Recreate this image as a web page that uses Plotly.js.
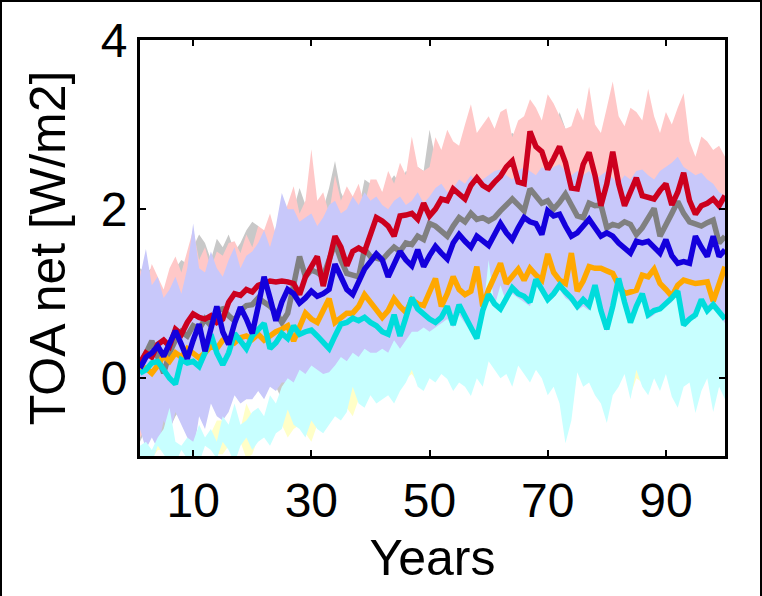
<!DOCTYPE html>
<html>
<head>
<meta charset="utf-8">
<script src="https://cdn.plot.ly/plotly-3.0.1.min.js"></script>
<style>
html,body{margin:0;padding:0;background:#fff;}
#wrap{position:relative;width:762px;height:596px;}
#chart{width:762px;height:596px;}
#frame{position:absolute;left:0;top:0;width:762px;height:596px;box-sizing:border-box;border-left:2px solid #000;border-top:2px solid #000;border-right:2px solid #000;pointer-events:none;}
</style>
</head>
<body>
<div id="wrap"><div id="chart"></div><div id="frame"></div></div>
<script>
// Years 1..100
const years = Array.from({length: 100}, (_, i) => i + 1);

const xTickVals = [10, 30, 50, 70, 90];
const yTickVals = [0, 2, 4];
const xTitle = 'Years';
const yTitle = 'TOA net [W/m2]';

// Ensemble means
const redMean = [0.18,0.30,0.25,0.40,0.45,0.38,0.58,0.52,0.66,0.76,
0.72,0.70,0.74,0.66,0.70,0.90,1.00,0.98,1.05,1.02,
1.10,1.12,1.15,1.14,1.15,1.14,1.12,0.99,1.20,1.32,
1.44,1.09,1.40,1.68,1.55,1.33,1.50,1.54,1.50,1.70,
1.90,1.86,1.80,1.68,1.92,1.93,1.95,1.88,2.07,1.92,
2.00,2.12,2.10,2.24,2.18,2.12,2.28,2.37,2.28,2.24,
2.32,2.39,2.50,2.57,2.32,2.30,2.92,2.74,2.68,2.47,
2.60,2.74,2.55,2.25,2.24,2.53,2.67,2.40,2.04,2.30,
2.68,2.30,2.04,2.20,2.37,2.16,2.14,2.12,2.22,2.30,
2.05,2.20,2.43,2.10,1.94,2.04,2.07,2.12,2.04,2.16];

const grayMean = [0.15,0.30,0.44,0.25,0.06,0.30,0.45,0.55,0.50,0.62,
0.58,0.70,0.62,0.80,0.82,0.74,0.68,0.80,0.86,0.87,
0.95,0.90,0.85,0.78,0.66,0.77,1.10,1.44,1.20,1.28,
1.25,1.20,1.40,1.60,1.40,1.24,1.22,1.20,1.53,1.44,
1.42,1.40,1.48,1.55,1.50,1.60,1.58,1.68,1.64,1.83,
1.80,1.75,1.68,1.80,1.90,1.85,1.95,1.88,1.90,1.86,
1.90,1.98,2.05,2.12,2.05,1.98,2.24,2.15,2.07,2.10,
2.00,2.08,2.18,2.05,1.92,1.90,2.07,2.04,2.05,1.78,
1.82,1.80,1.85,1.82,1.70,1.78,1.90,2.01,1.68,1.80,
1.95,2.09,1.95,1.85,1.82,1.80,1.84,1.87,1.60,1.68];

const blueMean = [0.12,0.25,0.30,0.38,0.26,0.40,0.56,0.40,0.23,0.45,
0.64,0.32,0.60,0.85,0.55,0.40,0.65,0.84,0.70,0.53,
0.85,1.20,0.95,0.68,0.90,1.05,1.00,0.89,0.95,1.03,
0.97,1.00,1.05,1.35,1.20,1.05,0.99,1.15,1.29,1.38,
1.47,1.40,1.20,1.35,1.50,1.40,1.33,1.52,1.32,1.45,
1.56,1.48,1.41,1.60,1.70,1.62,1.55,1.68,1.62,1.57,
1.70,1.83,1.72,1.64,1.78,1.90,1.85,1.83,1.70,1.98,
1.92,1.94,1.80,1.68,1.72,1.80,1.88,1.78,1.68,1.72,
1.68,1.60,1.55,1.48,1.62,1.60,1.62,1.55,1.48,1.64,
1.45,1.36,1.38,1.36,1.68,1.55,1.44,1.68,1.44,1.52];

const orangeMean = [0.08,0.12,0.06,0.15,0.27,0.20,0.30,0.25,0.35,0.30,
0.24,0.30,0.38,0.35,0.45,0.47,0.42,0.48,0.50,0.46,
0.52,0.45,0.50,0.55,0.58,0.62,0.44,0.60,0.77,0.70,
0.66,0.80,0.94,0.66,0.72,0.77,0.77,0.85,0.99,0.90,
0.82,0.72,0.80,0.94,0.85,0.78,0.93,0.88,0.86,1.02,
1.18,0.85,1.00,1.20,1.05,0.99,1.03,1.32,0.85,1.05,
1.20,1.36,1.12,1.20,1.29,1.16,1.30,1.22,1.16,1.47,
1.25,1.16,1.12,1.48,1.03,1.15,1.32,1.30,1.30,1.27,
1.24,1.10,1.00,1.02,1.04,1.22,1.20,1.29,1.12,1.05,
0.97,1.10,1.16,1.14,1.12,1.13,1.14,0.91,1.10,1.32];

const cyanMean = [0.06,0.10,0.18,0.20,0.10,0.00,-0.07,0.22,0.18,0.20,
0.14,0.30,0.52,0.30,0.16,0.30,0.53,0.45,0.35,0.50,
0.58,0.65,0.35,0.42,0.53,0.47,0.62,0.52,0.55,0.57,
0.50,0.42,0.35,0.50,0.64,0.66,0.71,0.68,0.72,0.66,
0.62,0.55,0.52,0.75,0.50,0.72,0.95,0.82,0.75,0.70,
0.66,0.72,0.85,0.63,0.87,0.72,0.60,0.47,0.80,0.99,
0.88,0.82,0.95,1.07,1.00,0.97,0.90,1.17,1.05,0.93,
1.00,1.10,1.02,0.95,0.85,0.93,0.86,1.10,0.80,0.58,
0.85,1.18,0.90,0.66,0.85,1.00,0.75,0.80,0.82,0.88,
0.95,1.03,0.63,0.70,0.75,0.93,0.80,0.87,0.78,0.70];

// Ensemble spread bounds
const redHi = [1.29,1.10,1.35,1.20,1.05,1.30,1.44,1.25,1.50,1.76,
1.40,1.55,1.30,1.50,1.45,1.60,1.62,1.48,1.70,1.55,
1.80,1.75,1.95,1.70,1.85,2.05,2.27,1.95,2.10,2.71,
2.10,2.20,1.95,2.40,2.10,2.27,2.15,2.30,2.05,2.35,
2.35,2.20,2.45,2.30,2.55,2.40,2.86,2.50,2.45,2.50,
2.85,2.70,2.94,2.80,2.75,3.00,3.24,2.90,3.00,3.10,
2.95,3.15,3.19,2.85,3.05,3.10,3.30,3.20,3.05,3.36,
3.25,3.10,2.95,2.98,3.20,3.05,3.45,3.00,2.90,3.20,
3.51,3.10,2.98,3.20,3.15,3.05,3.42,3.10,2.90,3.15,
3.00,3.20,3.37,2.80,2.62,2.86,2.80,2.70,2.75,2.62];
const redLo = [-0.70,-0.60,-0.45,-0.50,-0.35,-0.55,-0.30,-0.40,-0.20,-0.15,
-0.25,-0.10,-0.20,-0.30,-0.05,0.00,-0.10,0.10,0.05,0.00,
0.15,0.05,0.20,0.10,0.25,0.15,0.20,0.00,0.25,0.35,
0.40,0.20,0.45,0.55,0.40,0.35,0.50,0.55,0.45,0.70,
0.80,0.75,0.70,0.65,0.85,0.80,0.90,0.85,0.95,0.85,
0.95,1.05,1.00,1.15,1.05,1.00,1.15,1.20,1.10,1.10,
1.20,1.25,1.30,1.40,1.20,1.15,1.60,1.50,1.45,1.35,
1.40,1.50,1.40,1.15,1.10,1.35,1.45,1.25,1.00,1.20,
1.45,1.15,0.95,1.05,1.20,1.05,1.00,1.00,1.10,1.15,
0.95,1.05,1.25,1.00,0.85,0.95,0.95,1.00,0.95,1.05];

const grayHi = [1.30,1.25,1.30,1.05,0.90,1.15,1.30,1.40,1.35,1.55,
1.70,1.60,1.40,1.65,1.55,1.70,1.50,1.60,1.75,1.85,
1.80,1.70,1.75,1.65,1.55,1.70,2.00,2.25,2.05,2.10,
2.05,2.00,2.25,2.57,2.20,2.05,2.10,2.00,2.35,2.30,
2.25,2.20,2.30,2.40,2.30,2.45,2.40,2.50,2.45,2.94,
2.60,2.55,2.50,2.60,2.70,2.65,2.75,2.70,2.65,2.70,
2.70,2.80,2.85,2.90,2.85,2.75,3.00,2.95,2.85,2.90,
2.80,3.15,2.95,2.85,2.70,2.70,2.85,2.85,2.80,2.60,
2.60,2.55,2.65,2.60,2.50,2.55,2.70,2.80,2.50,2.60,
2.90,2.85,2.70,2.60,2.60,2.55,2.65,2.65,2.40,2.45];
const grayLo = [-0.75,-0.60,-0.45,-0.65,-0.85,-0.60,-0.45,-0.35,-0.40,-0.30,
-0.35,-0.20,-0.30,-0.10,-0.05,-0.15,-0.20,-0.10,-0.05,0.00,
0.05,0.00,-0.05,-0.10,-0.25,-0.10,0.20,0.50,0.30,0.35,
0.35,0.30,0.50,0.70,0.50,0.35,0.30,0.30,0.60,0.55,
0.50,0.50,0.60,0.65,0.60,0.70,0.70,0.80,0.75,0.90,
0.90,0.85,0.80,0.90,1.00,0.95,1.05,1.00,1.00,0.95,
1.00,1.10,1.15,1.20,1.15,1.10,1.35,1.25,1.15,1.20,
1.10,1.20,1.30,1.15,1.00,1.00,1.15,1.15,1.15,0.90,
0.90,0.90,0.95,0.90,0.80,0.90,1.00,1.10,0.80,0.90,
1.05,1.20,1.05,0.95,0.90,0.90,0.95,0.95,0.70,0.80];

const blueHi = [1.20,1.53,1.10,1.20,0.95,1.05,1.20,1.00,1.30,1.83,
1.30,1.25,1.50,1.30,1.20,1.40,1.55,1.30,1.45,1.50,
1.60,1.75,1.55,1.80,2.19,2.00,2.00,1.85,1.90,1.95,
1.80,1.90,2.05,2.10,1.95,2.00,2.15,2.05,2.20,2.10,
2.15,2.05,2.00,2.10,2.15,2.05,2.10,2.20,2.07,2.15,
2.25,2.30,2.20,2.25,2.35,2.30,2.40,2.30,2.35,2.40,
2.45,2.47,2.40,2.35,2.45,2.50,2.45,2.40,2.50,2.45,
2.50,2.53,2.45,2.40,2.45,2.40,2.45,2.35,2.40,2.45,
2.37,2.30,2.40,2.35,2.45,2.47,2.40,2.35,2.45,2.50,
2.55,2.62,2.50,2.45,2.40,2.43,2.35,2.30,2.20,2.16];
const blueLo = [-0.60,-0.84,-0.70,-0.84,-0.50,-0.65,-0.40,-0.55,-0.70,-0.90,
-0.45,-0.60,-0.30,-0.45,-0.50,-0.40,-0.20,-0.30,-0.25,-0.25,
-0.15,-0.25,-0.10,-0.15,-0.05,-0.05,-0.10,0.00,0.00,0.05,
0.00,-0.05,0.00,0.05,0.15,0.10,0.20,0.15,0.25,0.20,
0.20,0.25,0.20,0.35,0.25,0.35,0.45,0.45,0.50,0.45,
0.50,0.55,0.60,0.50,0.65,0.55,0.45,0.35,0.65,0.75,
0.75,0.80,0.80,0.85,0.85,0.80,0.75,0.90,0.85,0.80,
0.85,0.90,0.85,0.80,0.70,0.75,0.70,0.85,0.65,0.45,
0.70,0.90,0.75,0.55,0.70,0.85,0.60,0.65,0.70,0.75,
0.80,0.85,0.50,0.60,0.60,0.80,0.65,0.75,0.65,0.55];

const orangeHi = [-0.85,-0.80,-0.90,-0.75,-0.65,-0.45,-0.80,-0.85,-0.75,-0.80,
-0.60,-0.75,-0.65,-0.50,-0.50,-0.60,-0.35,-0.60,-0.30,-0.45,
-0.40,-0.50,-0.25,-0.35,-0.15,-0.10,-0.10,0.05,0.00,0.10,
0.05,0.00,0.02,0.10,0.20,0.15,0.25,0.20,0.30,0.25,
0.25,0.30,0.25,0.40,0.30,0.40,0.50,0.50,0.55,0.50,
0.55,0.60,0.65,0.55,0.70,0.60,0.50,0.40,0.70,0.80,
0.80,0.90,0.85,0.90,0.90,0.85,0.80,0.95,0.90,0.85,
0.90,0.95,0.90,0.85,0.75,0.80,0.75,0.95,0.70,0.50,
0.75,1.00,0.80,0.60,0.75,0.90,0.65,0.70,0.75,0.80,
0.85,0.90,0.55,0.65,0.65,0.85,0.70,0.80,0.70,0.60];
const orangeLo = [-0.95,-1.00,-0.95,-0.85,-0.85,-0.95,-0.95,-0.80,-0.90,-0.85,
-0.95,-0.75,-0.80,-0.90,-0.90,-0.80,-0.95,-0.75,-0.95,-0.90,
-0.70,-0.65,-0.75,-0.60,-0.55,-0.70,-0.60,-0.55,-0.65,-0.75,
-0.55,-0.60,-0.50,-0.40,-0.45,-0.35,-0.45,-0.25,-0.30,-0.15,
-0.25,-0.20,-0.15,-0.25,-0.10,0.00,0.05,-0.05,-0.10,0.05,
0.00,0.10,0.04,-0.10,0.00,-0.05,-0.16,0.05,-0.05,0.25,
0.15,0.05,0.10,-0.05,0.20,0.10,0.00,0.10,0.10,-0.15,
-0.05,-0.25,-0.70,-0.45,0.12,-0.05,0.00,-0.15,-0.25,-0.45,
-0.15,-0.05,0.10,-0.20,0.00,-0.05,0.00,0.10,-0.10,0.10,
-0.15,-0.30,-0.05,0.00,-0.35,-0.10,0.05,-0.35,-0.05,-0.20];

const cyanHi = [-0.80,-0.75,-0.85,-0.70,-0.60,-0.35,-0.75,-0.80,-0.70,-0.75,
-0.55,-0.70,-0.60,-0.75,-0.45,-0.55,-0.30,-0.55,-0.50,-0.40,
-0.35,-0.45,-0.20,-0.30,-0.10,0.00,-0.05,0.10,0.05,0.15,
0.10,0.05,0.07,0.15,0.25,0.20,0.30,0.25,0.35,0.30,
0.30,0.35,0.30,0.45,0.35,0.45,0.55,0.55,0.60,0.55,
0.60,0.65,0.70,0.60,0.75,0.65,0.55,0.45,0.75,1.40,
0.85,1.10,0.90,1.00,0.95,0.90,0.85,1.10,1.00,0.90,
0.95,1.05,0.95,0.90,0.80,0.85,0.80,1.05,0.75,0.55,
0.80,1.15,0.85,0.65,0.80,0.95,0.70,0.75,0.80,0.85,
0.90,1.00,0.60,0.70,0.70,0.90,0.75,0.85,0.75,0.65];
const cyanLo = [-1.00,-0.95,-1.00,-0.80,-0.90,-1.00,-1.00,-0.85,-0.95,-0.90,
-1.00,-0.80,-0.85,-0.95,-0.75,-0.85,-1.00,-0.80,-0.70,-0.85,
-0.75,-0.70,-0.80,-0.65,-0.60,-0.37,-0.55,-0.60,-0.70,-0.50,
-0.60,-0.65,-0.55,-0.45,-0.50,-0.40,-0.10,-0.30,-0.35,-0.20,
-0.30,-0.25,-0.20,-0.30,-0.15,-0.05,0.10,-0.10,-0.15,0.00,
-0.05,0.05,-0.01,-0.15,-0.05,-0.10,-0.21,0.00,-0.10,0.20,
0.10,0.00,0.05,-0.10,0.15,0.05,-0.05,0.10,0.00,-0.20,
-0.10,-0.30,-0.77,-0.50,0.07,-0.10,-0.05,-0.20,-0.30,-0.53,
-0.20,-0.10,0.05,-0.25,0.10,-0.10,-0.20,0.00,-0.15,0.05,
-0.22,-0.35,-0.10,-0.05,-0.41,-0.15,0.00,-0.40,-0.10,-0.25];

function band(hi, lo, color) {
  return {
    x: years.concat(years.slice().reverse()),
    y: hi.concat(lo.slice().reverse()),
    type: 'scatter', mode: 'lines', fill: 'toself',
    fillcolor: color, line: {width: 0, color: color},
    hoverinfo: 'skip', showlegend: false
  };
}
function line(y, color) {
  return {x: years, y: y, type: 'scatter', mode: 'lines',
    line: {color: color, width: 5.5}, showlegend: false};
}

const traces = [
  band(grayHi, grayLo, 'rgb(200,200,200)'),
  band(redHi, redLo, 'rgb(255,200,200)'),
  band(blueHi, blueLo, 'rgb(200,200,250)'),
  band(orangeHi, orangeLo, 'rgb(255,255,200)'),
  band(cyanHi, cyanLo, 'rgb(200,255,255)'),
  line(grayMean, 'rgb(128,128,128)'),
  line(redMean, 'rgb(204,0,30)'),
  line(orangeMean, 'rgb(255,168,0)'),
  line(cyanMean, 'rgb(0,220,220)'),
  line(blueMean, 'rgb(20,0,220)')
];

const fontFam = '"Liberation Sans", Arial, Helvetica, sans-serif';
const layout = {
  width: 762, height: 596,
  margin: {l: 140, r: 37, t: 40, b: 140},
  paper_bgcolor: '#fff', plot_bgcolor: '#fff',
  showlegend: false,
  font: {family: fontFam, color: '#000'},
  xaxis: {
    range: [1, 100], tickvals: xTickVals, ticktext: xTickVals.map(String),
    ticks: 'inside', ticklen: 6, tickwidth: 2, tickcolor: '#000',
    showline: true, linewidth: 3, linecolor: '#000', mirror: 'ticks',
    showgrid: false, zeroline: false,
    tickfont: {size: 48, family: fontFam, color: '#000'},
    title: {text: xTitle, font: {size: 50, family: fontFam, color: '#000'}, standoff: 15}
  },
  yaxis: {
    range: [-0.92, 4.001], tickvals: yTickVals, ticktext: yTickVals.map(String),
    ticks: 'inside', ticklen: 6, tickwidth: 2, tickcolor: '#000',
    showline: true, linewidth: 3, linecolor: '#000', mirror: 'ticks',
    showgrid: false, zeroline: false,
    tickfont: {size: 48, family: fontFam, color: '#000'},
    title: {text: yTitle, font: {size: 50, family: fontFam, color: '#000'}, standoff: 20}
  }
};

Plotly.newPlot('chart', traces, layout, {displayModeBar: false, staticPlot: true});
</script>
</body>
</html>
